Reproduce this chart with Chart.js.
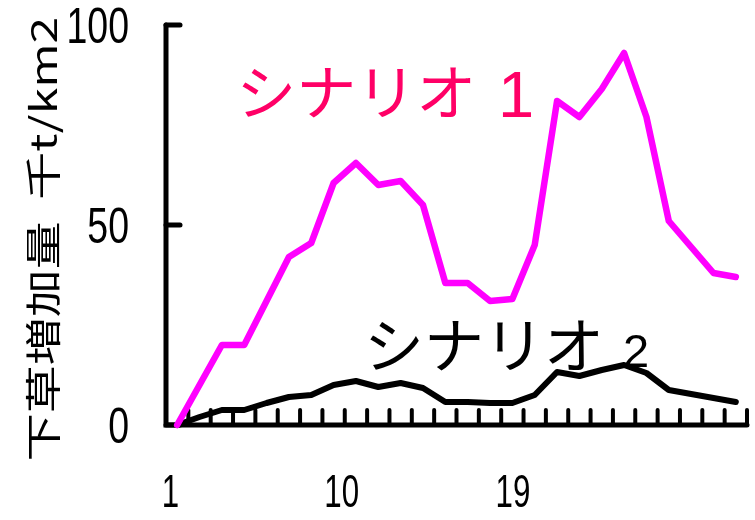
<!DOCTYPE html>
<html>
<head>
<meta charset="utf-8">
<script src="https://cdn.jsdelivr.net/npm/chart.js@4.4.1/dist/chart.umd.min.js"></script>
<style>
  html, body { margin: 0; padding: 0; background: #fff; }
</style>
</head>
<body>
<canvas id="chart" width="755" height="520"></canvas>
<script>
// 26 periods, values (thousand t/km2)
const periods = ['1', '2', '3', '4', '5', '6', '7', '8', '9', '10', '11', '12', '13',
                 '14', '15', '16', '17', '18', '19', '20', '21', '22', '23', '24', '25', '26'];
const scenario1 = [0, 10, 20, 20, 31, 42, 45.5, 60.5, 65.5, 60, 61, 55, 35.5,
                   35.5, 31, 31.5, 45, 81, 77, 84, 93, 77, 51, 44.5, 38, 37];
const scenario2 = [0, 2, 3.75, 3.75, 5.5, 7, 7.5, 10, 11, 9.5, 10.5, 9.25, 5.75,
                   5.75, 5.5, 5.5, 7.5, 13.25, 12.25, 13.75, 15, 13, 8.75, 7.75, 6.75, 5.75];
const xTickLabels = [1, 10, 19];
const yTicks = [0, 50, 100];
const seriesNames = ['シナリオ', 'シナリオ'];
const seriesSuffix = ['1', '2'];
const yTitle = '下草増加量  千t/km2';

const NUM_FONT = '"Liberation Sans", Arial, sans-serif';
const JP_FONT = '"Noto Sans CJK JP", sans-serif';

// tick marks pointing into the plot, like the original
const innerTicks = {
    id: 'innerTicks',
    beforeDatasetsDraw(chart) {
        const {ctx, chartArea, scales: {x, y}} = chart;
        ctx.save();
        ctx.strokeStyle = '#000';
        ctx.lineCap = 'round';
        ctx.lineWidth = 4;
        for (let i = 0; i < x.ticks.length; i++) {
            const px = x.getPixelForValue(i + 0.5);
            ctx.beginPath();
            ctx.moveTo(px, chartArea.bottom);
            ctx.lineTo(px, chartArea.bottom - 15);
            ctx.stroke();
        }
        ctx.lineWidth = 5;
        y.ticks.forEach(t => {
            const py = y.getPixelForValue(t.value);
            ctx.beginPath();
            ctx.moveTo(chartArea.left, py);
            ctx.lineTo(chartArea.left + 14, py);
            ctx.stroke();
        });
        // axis lines with round ends
        ctx.beginPath();
        ctx.moveTo(chartArea.left, chartArea.top);
        ctx.lineTo(chartArea.left, chartArea.bottom);
        ctx.lineTo(chartArea.right, chartArea.bottom);
        ctx.stroke();
        ctx.restore();
    }
};

// tick labels, drawn narrow as in the source image
const narrowLabels = {
    id: 'narrowLabels',
    afterDraw(chart) {
        const {ctx, chartArea, scales: {xLab, y}} = chart;
        ctx.save();
        ctx.fillStyle = '#000';
        ctx.textBaseline = 'middle';

        ctx.font = '50px ' + NUM_FONT;
        ctx.textAlign = 'right';
        y.ticks.forEach(t => {
            ctx.save();
            ctx.translate(chartArea.left - 37, y.getPixelForValue(t.value) + 4);
            ctx.scale(0.75, 1);
            ctx.fillText(String(t.value), 0, 0);
            ctx.restore();
        });

        ctx.font = '46px ' + NUM_FONT;
        ctx.textAlign = 'center';
        xLab.ticks.forEach(t => {
            ctx.save();
            ctx.translate(xLab.getPixelForValue(t.value), chartArea.bottom + 69);
            ctx.scale(0.68, 1);
            ctx.fillText(String(t.value), 0, 0);
            ctx.restore();
        });
        ctx.restore();
    }
};

// series names written next to the lines + rotated y title
const seriesTags = {
    id: 'seriesTags',
    afterDatasetsDraw(chart) {
        const {ctx, scales: {x, y}} = chart;
        ctx.save();

        ctx.textBaseline = 'middle';
        ctx.font = '60px ' + JP_FONT;
        ctx.fillStyle = '#ff0066';
        ctx.fillText(seriesNames[0], x.getPixelForValue(2.64), y.getPixelForValue(83.25));
        ctx.textBaseline = 'alphabetic';
        ctx.font = '65px ' + NUM_FONT;
        ctx.fillText(seriesSuffix[0], x.getPixelForValue(14.36), y.getPixelForValue(77));

        ctx.textBaseline = 'middle';
        ctx.font = '60px ' + JP_FONT;
        ctx.fillStyle = '#000';
        ctx.fillText(seriesNames[1], x.getPixelForValue(8.36), y.getPixelForValue(20));
        ctx.textBaseline = 'alphabetic';
        ctx.font = '47px ' + NUM_FONT;
        ctx.fillText(seriesSuffix[1], x.getPixelForValue(19.95), y.getPixelForValue(14.5));

        // y axis title, squeezed a little like the source image
        ctx.translate(43, 239);
        ctx.rotate(-Math.PI / 2);
        ctx.scale(1, 0.75);
        ctx.font = '48px ' + JP_FONT;
        ctx.textAlign = 'center';
        ctx.textBaseline = 'middle';
        ctx.fillText(yTitle, 0, 0);
        ctx.restore();
    }
};

new Chart(document.getElementById('chart').getContext('2d'), {
    type: 'line',
    data: {
        labels: periods,
        datasets: [
            {
                label: seriesNames[0] + seriesSuffix[0],
                data: scenario1,
                borderColor: '#ff00ff',
                borderWidth: 6.5,
                pointRadius: 0,
                tension: 0,
                borderJoinStyle: 'round',
                borderCapStyle: 'round',
                clip: false
            },
            {
                label: seriesNames[1] + seriesSuffix[1],
                data: scenario2,
                borderColor: '#000',
                borderWidth: 6,
                pointRadius: 0,
                tension: 0,
                borderJoinStyle: 'round',
                borderCapStyle: 'round',
                clip: false
            }
        ]
    },
    options: {
        responsive: false,
        animation: false,
        devicePixelRatio: 1,
        layout: { padding: { top: 25, right: 8, left: 0, bottom: 0 } },
        plugins: {
            legend: { display: false },
            tooltip: { enabled: false }
        },
        scales: {
            x: {
                type: 'category',
                offset: true,
                grid: { display: false, drawTicks: false, offset: true },
                ticks: { display: false },
                border: { display: false },
                afterFit(s) { s.height = 0; }
            },
            xLab: {
                type: 'linear',
                position: 'bottom',
                min: 0.77,
                max: 31.3,
                grid: { display: false, drawTicks: false },
                border: { display: false },
                ticks: { display: false },
                afterBuildTicks(s) { s.ticks = xTickLabels.map(v => ({ value: v })); },
                afterFit(s) { s.height = 95; }
            },
            y: {
                min: 0,
                max: 100,
                afterBuildTicks(s) { s.ticks = yTicks.map(v => ({ value: v })); },
                grid: { display: false, drawTicks: false },
                border: { display: false },
                ticks: { display: false },
                afterFit(s) { s.width = 166; s.paddingTop = 0; s.paddingBottom = 0; }
            }
        }
    },
    plugins: [innerTicks, narrowLabels, seriesTags]
});
</script>
</body>
</html>
